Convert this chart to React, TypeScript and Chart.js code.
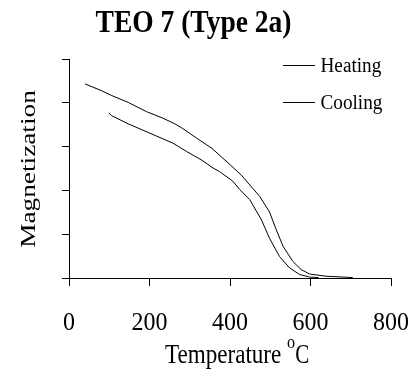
import React, { useEffect, useRef } from "react";
import { Chart, registerables } from "chart.js";

Chart.register(...registerables);

// Thermomagnetic run for sample TEO 7
const chartTitle = "TEO 7 (Type 2a)";
const seriesNames = ["Heating", "Cooling"];

const heatingTemp = [40, 80, 105, 147, 192, 233, 263, 283, 316, 355, 395, 428, 474, 498, 515, 532, 556, 577, 598, 639, 705];
const heatingMag = [4.43, 4.28, 4.17, 4.01, 3.8, 3.65, 3.52, 3.41, 3.2, 2.96, 2.63, 2.35, 1.86, 1.51, 1.1, 0.72, 0.38, 0.19, 0.09, 0.04, 0.01];

const coolingTemp = [99, 105, 147, 200, 258, 292, 330, 358, 374, 407, 424, 449, 478, 498, 523, 548, 573, 598, 620];
const coolingMag = [3.77, 3.71, 3.52, 3.31, 3.08, 2.89, 2.69, 2.51, 2.43, 2.21, 2.02, 1.79, 1.33, 0.91, 0.49, 0.23, 0.08, 0.02, 0.01];

const xTicks = [0, 200, 400, 600, 800];
const yTicks = [0, 1, 2, 3, 4, 5];

const xTitle = "Temperature";
const xUnitSup = "o";
const xUnit = "C";
const yTitle = "Magnetization";

const SERIF = '"Liberation Serif", "Times New Roman", serif';

function drawText(
  ctx: CanvasRenderingContext2D,
  text: string,
  x: number,
  y: number,
  font: string,
  sx: number,
  align: CanvasTextAlign = "center",
  rotate = 0,
  sy = 1
) {
  ctx.save();
  ctx.translate(x, y);
  if (rotate) ctx.rotate(rotate);
  ctx.scale(sx, sy);
  ctx.font = font;
  ctx.textAlign = align;
  ctx.textBaseline = "alphabetic";
  ctx.fillStyle = "#000";
  ctx.fillText(text, 0, 0);
  ctx.restore();
}

function textWidth(ctx: CanvasRenderingContext2D, text: string, font: string, sx: number) {
  ctx.save();
  ctx.font = font;
  const w = ctx.measureText(text).width * sx;
  ctx.restore();
  return w;
}

// Draws the title, axis titles, tick labels and the legend in a narrow serif face
const textPlugin = {
  id: "serifText",
  afterDraw(chart: Chart) {
    const ctx = chart.ctx;
    const xs = chart.scales.x;

    drawText(ctx, chartTitle, 193.5, 31.7, `bold 32px ${SERIF}`, 0.86);

    const tickFont = `25px ${SERIF}`;
    xs.ticks.forEach((t) => {
      drawText(ctx, String(t.value), xs.getPixelForValue(t.value), 330.3, tickFont, 0.96);
    });

    // x axis title with a superscript degree sign
    const tFont = `27px ${SERIF}`;
    const supFont = `18px ${SERIF}`;
    let x = 165;
    drawText(ctx, xTitle, x, 363.3, tFont, 0.855, "left");
    x += textWidth(ctx, xTitle + " ", tFont, 0.855);
    drawText(ctx, xUnitSup, x, 347.5, supFont, 0.9, "left");
    x += textWidth(ctx, xUnitSup, supFont, 0.9);
    drawText(ctx, xUnit, x, 363.3, tFont, 0.78, "left");

    // y axis title, rotated
    drawText(ctx, yTitle, 34.7, 169, `21px ${SERIF}`, 1.3, "center", -Math.PI / 2);

    // legend
    const rows = [65, 102.3];
    chart.data.datasets.forEach((ds, i) => {
      const y = rows[i];
      ctx.save();
      ctx.strokeStyle = ds.borderColor as string;
      ctx.lineWidth = 1;
      ctx.beginPath();
      ctx.moveTo(283, Math.round(y) + 0.5);
      ctx.lineTo(315, Math.round(y) + 0.5);
      ctx.stroke();
      ctx.restore();
      drawText(ctx, ds.label as string, 320.5, y + 7, `20px ${SERIF}`, 0.96, "left");
    });
  },
};

export default function App() {
  const canvasRef = useRef<HTMLCanvasElement | null>(null);

  useEffect(() => {
    if (!canvasRef.current) return;
    const chart = new Chart(canvasRef.current, {
      type: "line",
      data: {
        datasets: [
          {
            label: seriesNames[0],
            data: heatingTemp.map((t, i) => ({ x: t, y: heatingMag[i] })),
            borderColor: "#000",
            borderWidth: 1,
            pointRadius: 0,
            tension: 0,
            fill: false,
          },
          {
            label: seriesNames[1],
            data: coolingTemp.map((t, i) => ({ x: t, y: coolingMag[i] })),
            borderColor: "#000",
            borderWidth: 1,
            pointRadius: 0,
            tension: 0,
            fill: false,
          },
        ],
      },
      options: {
        animation: false,
        responsive: false,
        layout: { padding: { left: 62, top: 59, right: 25, bottom: 88 } },
        plugins: {
          legend: { display: false },
          title: { display: false },
          tooltip: { enabled: false },
        },
        scales: {
          x: {
            type: "linear",
            min: xTicks[0],
            max: xTicks[xTicks.length - 1],
            afterBuildTicks: (s) => {
              s.ticks = xTicks.map((v) => ({ value: v }));
            },
            ticks: { display: false },
            grid: { drawOnChartArea: false, drawTicks: true, tickLength: 8, color: "#000" },
            border: { color: "#000", width: 1 },
          },
          y: {
            type: "linear",
            min: yTicks[0],
            max: yTicks[yTicks.length - 1],
            afterBuildTicks: (s) => {
              s.ticks = yTicks.map((v) => ({ value: v }));
            },
            ticks: { display: false },
            grid: { drawOnChartArea: false, drawTicks: true, tickLength: 7, color: "#000" },
            border: { color: "#000", width: 1 },
          },
        },
      },
      plugins: [textPlugin],
    });
    return () => chart.destroy();
  }, []);

  return (
    <div style={{ position: "fixed", left: 0, top: 0, width: 416, height: 374, background: "#fff" }}>
      <canvas ref={canvasRef} width={416} height={374} style={{ display: "block" }} />
    </div>
  );
}
